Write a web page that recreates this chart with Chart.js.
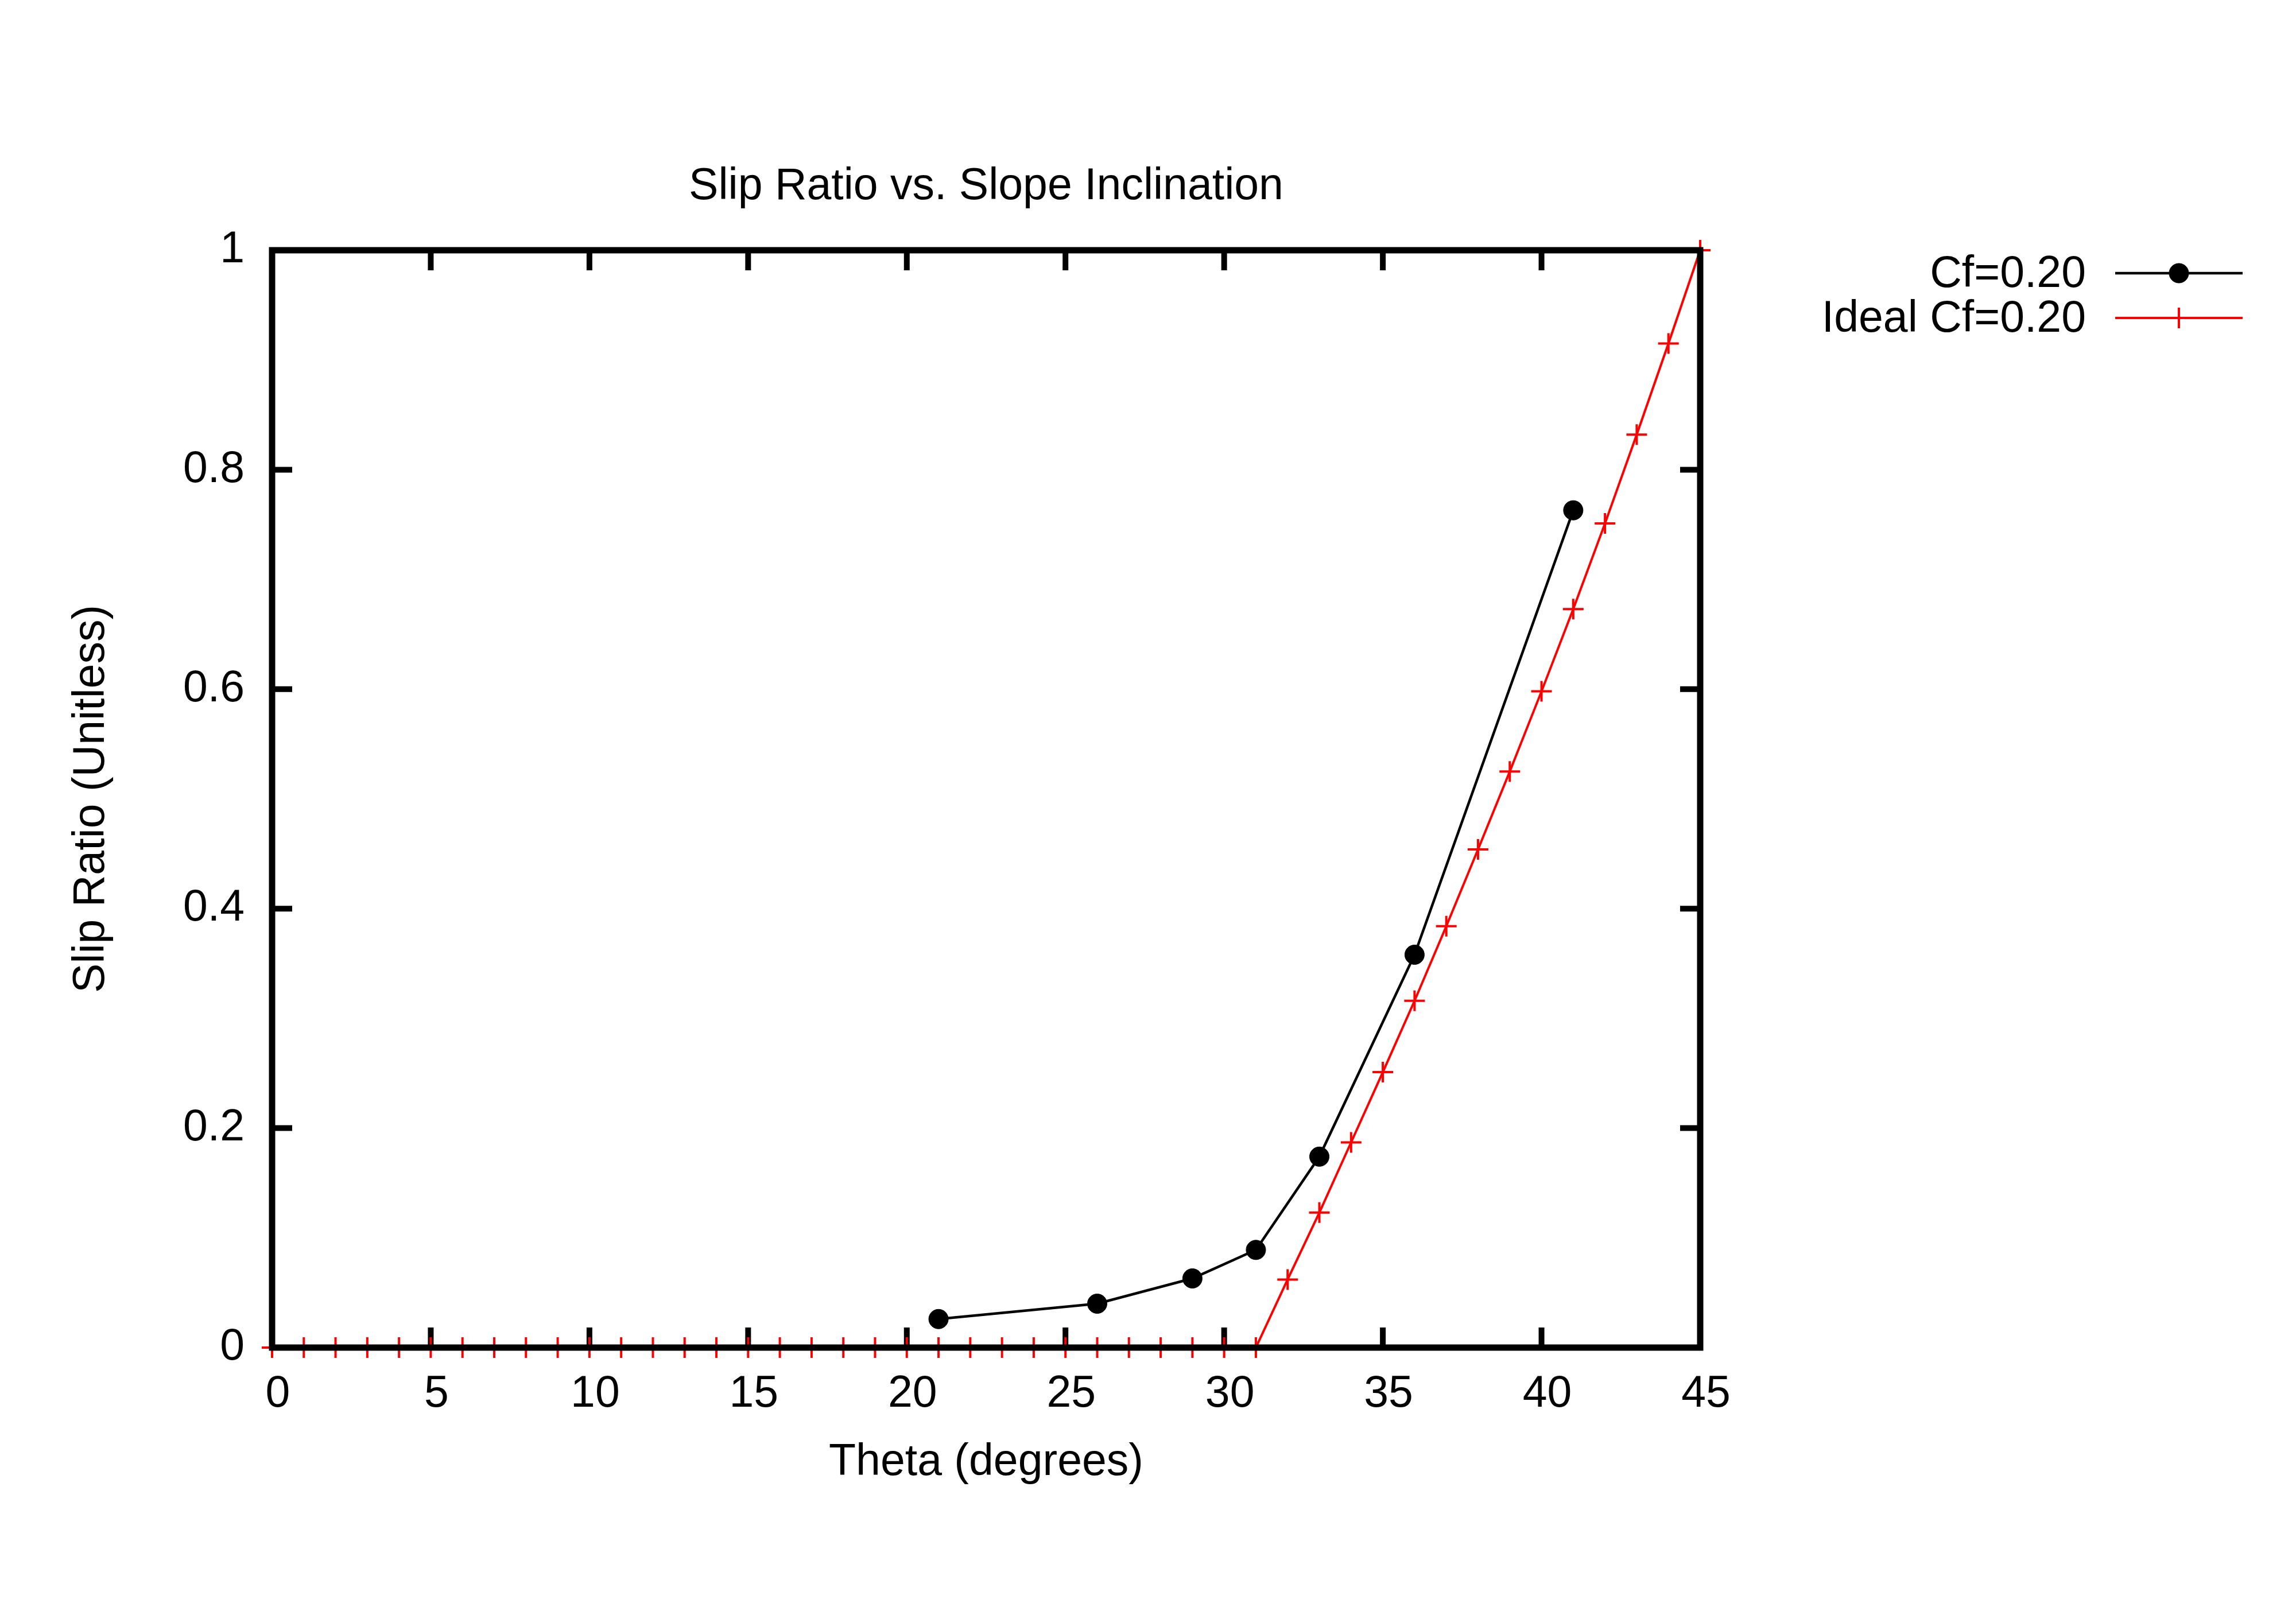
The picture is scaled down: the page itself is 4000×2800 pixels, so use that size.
<!DOCTYPE html>
<html>
<head>
<meta charset="utf-8">
<title>Slip Ratio vs. Slope Inclination</title>
<script src="https://cdn.jsdelivr.net/npm/chart.js@4.4.1/dist/chart.umd.min.js"></script>
<style>
    html, body { margin: 0; padding: 0; background: #ffffff; }
    #chart { display: block; }
</style>
</head>
<body>
<canvas id="chart" width="4000" height="2800"></canvas>
<script>
// ==================== DATA ====================

var measuredTheta = [21, 26, 29, 31, 33, 36, 41];
var measuredSlip = [0.026, 0.040, 0.063, 0.089, 0.174, 0.358, 0.763];

var idealTheta = [0, 1, 2, 3, 4, 5, 6, 7, 8, 9, 10, 11, 12, 13, 14, 15, 16, 17, 18, 19, 20, 21, 22,
    23, 24, 25, 26, 27, 28, 29, 30, 31, 32, 33, 34, 35, 36, 37, 38, 39, 40, 41, 42, 43, 44, 45];
var idealSlip = [0, 0, 0, 0, 0, 0, 0, 0, 0, 0, 0, 0, 0, 0, 0, 0, 0, 0, 0, 0, 0, 0, 0,
    0, 0, 0, 0, 0, 0, 0, 0, 0, 0.062, 0.123, 0.187, 0.251, 0.316, 0.384, 0.454, 0.525, 0.598,
    0.673, 0.751, 0.832, 0.915, 1.0];

var xTickValues = [0, 5, 10, 15, 20, 25, 30, 35, 40, 45];
var yTickValues = [0, 0.2, 0.4, 0.6, 0.8, 1];

var seriesLabels = ["Cf=0.20", "Ideal Cf=0.20"];

// ==================== CHART ====================

var FONT = "Liberation Sans, Arial, Helvetica, sans-serif";
var FONT_SIZE = 77;

function toPoints(xs, ys) {
    var pts = [];
    for (var i = 0; i < xs.length; i++) {
        pts.push({ x: xs[i], y: ys[i] });
    }
    return pts;
}

function setTicks(values) {
    return function(scale) {
        scale.ticks = values.map(function(v) { return { value: v }; });
    };
}

function plainLabel(value) {
    return String(value);
}

// inward major tics on all four sides, drawn under the data
var ticsPlugin = {
    id: "tics",
    beforeDatasetsDraw: function(chart) {
        var ctx = chart.ctx;
        var a = chart.chartArea;
        var len = 35;
        ctx.save();
        ctx.strokeStyle = "#000000";
        ctx.lineWidth = 10;
        ctx.beginPath();
        xTickValues.forEach(function(v) {
            var px = chart.scales.x.getPixelForValue(v);
            ctx.moveTo(px, a.bottom); ctx.lineTo(px, a.bottom - len);
            ctx.moveTo(px, a.top); ctx.lineTo(px, a.top + len);
        });
        yTickValues.forEach(function(v) {
            var py = chart.scales.y.getPixelForValue(v);
            ctx.moveTo(a.left, py); ctx.lineTo(a.left + len, py);
            ctx.moveTo(a.right, py); ctx.lineTo(a.right - len, py);
        });
        ctx.stroke();
        ctx.restore();
    },
    afterDatasetsDraw: function(chart) {
        // heavy frame goes over the data, like the original
        var ctx = chart.ctx;
        var a = chart.chartArea;
        ctx.save();
        ctx.strokeStyle = "#000000";
        ctx.lineWidth = 11;
        ctx.lineJoin = "miter";
        ctx.strokeRect(a.left, a.top, a.right - a.left, a.bottom - a.top);
        ctx.restore();
    }
};

// gnuplot style key: right aligned text, then a line sample with the marker
var keyPlugin = {
    id: "key",
    afterDraw: function(chart) {
        var ctx = chart.ctx;
        var textRight = 3634;
        var lineStart = 3685;
        var lineEnd = 3907;
        var rowY = 476;
        var rowStep = 78;
        ctx.save();
        chart.data.datasets.forEach(function(ds, i) {
            var y = rowY + i * rowStep;
            ctx.fillStyle = "#000000";
            ctx.font = FONT_SIZE + "px " + FONT;
            ctx.textAlign = "right";
            ctx.textBaseline = "middle";
            ctx.fillText(ds.label, textRight, y + 3);

            ctx.strokeStyle = ds.borderColor;
            ctx.lineWidth = ds.borderWidth;
            ctx.beginPath();
            ctx.moveTo(lineStart, y);
            ctx.lineTo(lineEnd, y);
            ctx.stroke();

            ctx.fillStyle = ds.pointBackgroundColor;
            ctx.strokeStyle = ds.pointBorderColor;
            ctx.lineWidth = ds.pointBorderWidth;
            Chart.helpers.drawPoint(ctx, {
                pointStyle: ds.pointStyle,
                radius: ds.pointRadius,
                rotation: 0,
                borderWidth: ds.pointBorderWidth
            }, (lineStart + lineEnd) / 2, y);
        });
        ctx.restore();
    }
};

var canvas = document.getElementById("chart");

var slipChart = new Chart(canvas.getContext("2d"), {
    type: "scatter",
    data: {
        datasets: [{
            label: seriesLabels[0],
            data: toPoints(measuredTheta, measuredSlip),
            showLine: true,
            borderColor: "#000000",
            borderWidth: 4.5,
            pointStyle: "circle",
            pointRadius: 17,
            pointBackgroundColor: "#000000",
            pointBorderColor: "#000000",
            pointBorderWidth: 1,
            clip: false
        }, {
            label: seriesLabels[1],
            data: toPoints(idealTheta, idealSlip),
            showLine: true,
            borderColor: "#ff0000",
            borderWidth: 4,
            pointStyle: "cross",
            pointRadius: 18,
            pointBackgroundColor: "#ff0000",
            pointBorderColor: "#ff0000",
            pointBorderWidth: 4,
            clip: false
        }]
    },
    options: {
        responsive: false,
        animation: false,
        devicePixelRatio: 1,
        layout: {
            padding: { left: 0, right: 1038, top: 0, bottom: 0 }
        },
        plugins: {
            legend: { display: false },
            tooltip: { enabled: false },
            title: {
                display: true,
                text: "Slip Ratio vs. Slope Inclination",
                color: "#000000",
                fullSize: false,
                font: { family: FONT, size: FONT_SIZE, weight: "normal", lineHeight: 1.2 },
                padding: { top: 280, bottom: 63.6 }
            }
        },
        scales: {
            x: {
                type: "linear",
                min: 0,
                max: 45,
                afterBuildTicks: setTicks(xTickValues),
                afterFit: function(scale) { scale.height = 452; },
                grid: { display: false, drawTicks: false, tickLength: 0 },
                border: { display: false },
                ticks: {
                    color: "#000000",
                    padding: 36,
                    labelOffset: 10,
                    maxRotation: 0,
                    autoSkip: false,
                    callback: plainLabel,
                    font: { family: FONT, size: FONT_SIZE, lineHeight: 1.2 }
                },
                title: {
                    display: true,
                    text: "Theta (degrees)",
                    color: "#000000",
                    font: { family: FONT, size: FONT_SIZE, lineHeight: 1.2 },
                    padding: { top: 0, bottom: 205 }
                }
            },
            y: {
                type: "linear",
                min: 0,
                max: 1,
                afterBuildTicks: setTicks(yTickValues),
                afterFit: function(scale) { scale.width = 474; },
                grid: { display: false, drawTicks: false, tickLength: 0 },
                border: { display: false },
                ticks: {
                    color: "#000000",
                    padding: 48,
                    autoSkip: false,
                    callback: plainLabel,
                    font: { family: FONT, size: FONT_SIZE, lineHeight: 1.2 }
                },
                title: {
                    display: true,
                    text: "Slip Ratio (Unitless)",
                    color: "#000000",
                    font: { family: FONT, size: FONT_SIZE, lineHeight: 1.2 },
                    padding: { top: 114, bottom: 0 }
                }
            }
        }
    },
    plugins: [ticsPlugin, keyPlugin]
});
</script>
</body>
</html>
